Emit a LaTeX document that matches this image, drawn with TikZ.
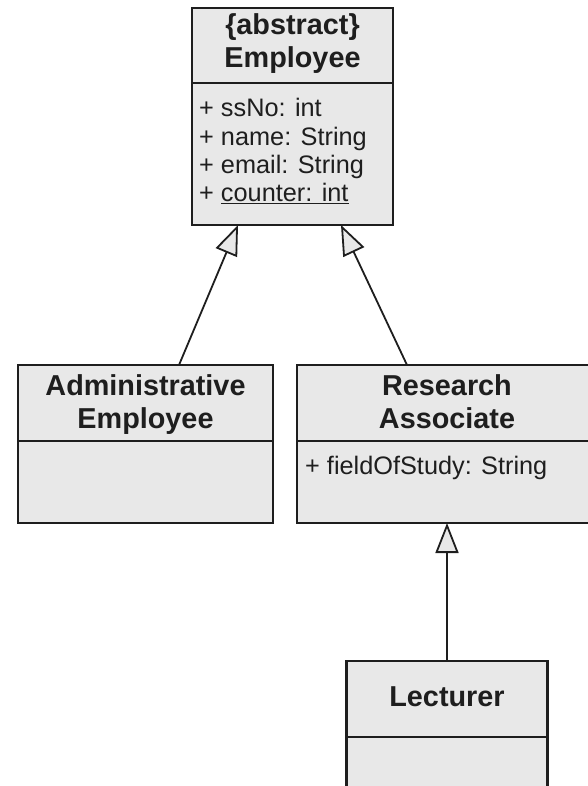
\documentclass[tikz,border=0pt]{standalone}
\usepackage{fontspec}
\setmainfont{Liberation Sans}
\usetikzlibrary{arrows.meta}
\definecolor{boxfill}{HTML}{E8E8E8}
\definecolor{ink}{HTML}{1E1E1E}
\begin{document}
\begin{tikzpicture}[x=1pt,y=-1pt,
  umlbox/.style={draw=ink, fill=boxfill, line width=2.2pt, inner sep=0pt, outer sep=0pt, anchor=north west},
  ttl/.style={anchor=base, inner sep=0pt, font=\fontsize{28.8}{33}\selectfont\bfseries, text=ink},
  attr/.style={anchor=base west, inner sep=0pt, font=\fontsize{25.3}{28.5}\selectfont, text=ink},
  sepline/.style={draw=ink, line width=2.2pt},
  gen/.style={draw=ink, line width=1.8pt, -{Triangle[length=30pt,width=23pt,fill=boxfill,line width=1.8pt]}}]
\useasboundingbox (0,0) rectangle (588,786);

% boxes
\node[umlbox, minimum width=201pt, minimum height=217pt] (emp) at (192,8) {};
\node[umlbox, minimum width=255pt, minimum height=158pt] (adm) at (18,365) {};
\node[umlbox, minimum width=300pt, minimum height=158pt] (ra) at (297,365) {};
\node[umlbox, minimum width=201pt, minimum height=150pt] (lec) at (346.5,661) {};

% separators
\draw[sepline] (emp.north west) ++(0,75) -- ++(201,0);
\draw[sepline] (adm.north west) ++(0,76) -- ++(255,0);
\draw[sepline] (ra.north west) ++(0,76) -- ++(300,0);
\draw[sepline] (lec.north west) ++(0,76) -- ++(201,0);

% Employee texts
\node[ttl] (empA) at (292.5,35) {\{abstract\}};
\node[ttl] (empN) at (292.5,68) {Employee};
\node[attr] (a1) at (199,117) {+ ssNo: int};
\node[attr] (a2) at (199,146) {+ name: String};
\node[attr] (a3) at (199,174) {+ email: String};
\node[attr] (a4) at (199,202) {+ \underline{counter: int}};

% Administrative Employee
\node[ttl] (admA) at (145.5,395) {Administrative};
\node[ttl] (admB) at (145.5,428) {Employee};

% Research Associate
\node[ttl] (raA) at (447,395) {Research};
\node[ttl] (raB) at (447,428) {Associate};
\node[attr] (ra1) at (305,474) {+ fieldOfStudy: String};

% Lecturer
\node[ttl] (lecA) at (447,706) {Lecturer};

% generalizations
\draw[gen] ([xshift=33.5pt]adm.north) -- ([xshift=-54.5pt]emp.south);
\draw[gen] ([xshift=-40pt]ra.north) -- ([xshift=48.5pt]emp.south);
\draw[gen] (lec.north) -- (ra.south);
\end{tikzpicture}
\end{document}
